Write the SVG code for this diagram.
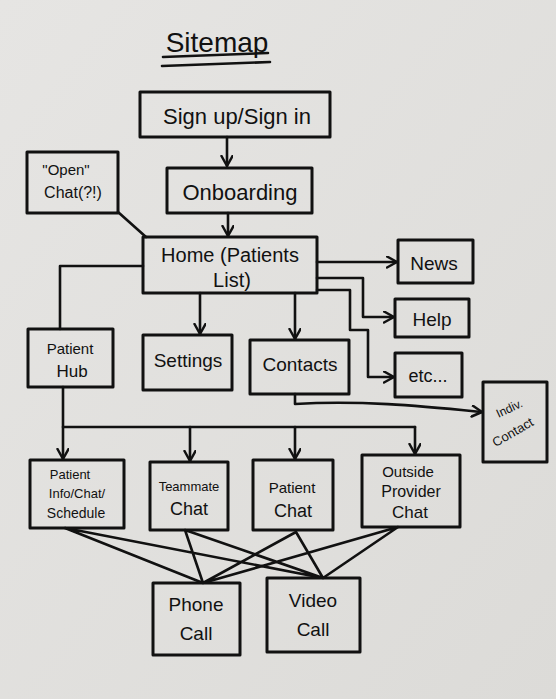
<svg xmlns="http://www.w3.org/2000/svg" width="556" height="699" viewBox="0 0 556 699">
<defs>
<marker id="arr" markerWidth="14" markerHeight="14" refX="11" refY="6" orient="auto" markerUnits="userSpaceOnUse">
<path d="M1,0.5 L11,6 L1,11.5" fill="none" stroke="#111" stroke-width="2.5" stroke-linecap="round" stroke-linejoin="round"/>
</marker>
<linearGradient id="paper" x1="0" y1="0" x2="1" y2="1">
<stop offset="0" stop-color="#e6e5e3"/>
<stop offset="1" stop-color="#dcdbd8"/>
</linearGradient>
</defs>
<style>
.box{fill:none;stroke:#111;stroke-width:3;stroke-linejoin:round}
.ln{fill:none;stroke:#111;stroke-width:2.6;stroke-linecap:round;stroke-linejoin:round}
.ar{marker-end:url(#arr)}
text{font-family:"Liberation Sans","DejaVu Sans",sans-serif;fill:#111;text-anchor:middle}
</style>
<rect x="0" y="0" width="556" height="699" fill="url(#paper)"/>

<g id="title">
<text x="217" y="52" font-size="28">Sitemap</text>
<path class="ln" d="M163,57 L268,53 M162,66 L270,62"/>
</g>

<g id="connectors">
<path class="ln ar" d="M227,137 V166"/>
<path class="ln ar" d="M228,213 V236"/>
<path class="ln" d="M118,212 L146,237"/>
<path class="ln" d="M143,266 H60 V329"/>
<path class="ln ar" d="M200,293 V334"/>
<path class="ln ar" d="M295,293 V339"/>
<path class="ln ar" d="M317,262 H397"/>
<path class="ln ar" d="M317,278 H363 V317 H394"/>
<path class="ln ar" d="M317,290 H350 V330 H368 V377 H394"/>
<path class="ln ar" d="M295,394 V404 C360,400 420,406 482,412"/>
<path class="ln ar" d="M63,387 V459"/>
<path class="ln" d="M63,427 H415"/>
<path class="ln ar" d="M190,427 V461"/>
<path class="ln ar" d="M295,427 V459"/>
<path class="ln ar" d="M415,427 V454"/>
<path class="ln" d="M65,528 L203,583 M65,528 L323,578 M185,530 L203,583 M185,530 L323,578 M296,532 L203,583 M296,532 L323,578 M398,527 L203,583 M398,527 L323,578"/>
</g>

<g id="signup"><rect class="box" x="140" y="92" width="190" height="45"/><text x="237" y="124" font-size="22">Sign up/Sign in</text></g>
<g id="onboarding"><rect class="box" x="167" y="168" width="145" height="45"/><text x="240" y="200" font-size="22">Onboarding</text></g>
<g id="openchat"><rect class="box" x="27" y="152" width="91" height="61"/><text x="66" y="175" font-size="15">"Open"</text><text x="73" y="198" font-size="16">Chat(?!)</text></g>
<g id="home"><rect class="box" x="143" y="237" width="174" height="56"/><text x="230" y="262" font-size="20">Home (Patients</text><text x="232" y="287" font-size="20">List)</text></g>
<g id="news"><rect class="box" x="398" y="240" width="75" height="43"/><text x="434" y="270" font-size="19">News</text></g>
<g id="help"><rect class="box" x="395" y="299" width="74" height="38"/><text x="432" y="326" font-size="19">Help</text></g>
<g id="etc"><rect class="box" x="395" y="353" width="67" height="44"/><text x="428" y="382" font-size="18">etc...</text></g>
<g id="indiv"><rect class="box" x="483" y="382" width="64" height="80"/><text x="511" y="412" font-size="12" transform="rotate(-25 511 412)">Indiv.</text><text x="515" y="436" font-size="13" transform="rotate(-30 515 436)">Contact</text></g>
<g id="patienthub"><rect class="box" x="28" y="329" width="85" height="58"/><text x="70" y="354" font-size="15">Patient</text><text x="72" y="377" font-size="17">Hub</text></g>
<g id="settings"><rect class="box" x="143" y="335" width="89" height="55"/><text x="188" y="367" font-size="19">Settings</text></g>
<g id="contacts"><rect class="box" x="250" y="340" width="99" height="54"/><text x="300" y="371" font-size="19">Contacts</text></g>
<g id="patientinfo"><rect class="box" x="30" y="460" width="94" height="68"/><text x="70" y="479" font-size="13">Patient</text><text x="77" y="498" font-size="13">Info/Chat/</text><text x="76" y="518" font-size="14">Schedule</text></g>
<g id="teammate"><rect class="box" x="150" y="462" width="78" height="68"/><text x="189" y="491" font-size="13">Teammate</text><text x="189" y="515" font-size="18">Chat</text></g>
<g id="patientchat"><rect class="box" x="253" y="460" width="80" height="70"/><text x="292" y="493" font-size="15">Patient</text><text x="293" y="517" font-size="18">Chat</text></g>
<g id="outside"><rect class="box" x="362" y="455" width="98" height="72"/><text x="408" y="477" font-size="15">Outside</text><text x="411" y="497" font-size="16">Provider</text><text x="410" y="518" font-size="17">Chat</text></g>
<g id="phone"><rect class="box" x="153" y="583" width="87" height="72"/><text x="196" y="611" font-size="19">Phone</text><text x="196" y="640" font-size="19">Call</text></g>
<g id="video"><rect class="box" x="267" y="578" width="93" height="74"/><text x="313" y="607" font-size="19">Video</text><text x="313" y="636" font-size="19">Call</text></g>
</svg>
